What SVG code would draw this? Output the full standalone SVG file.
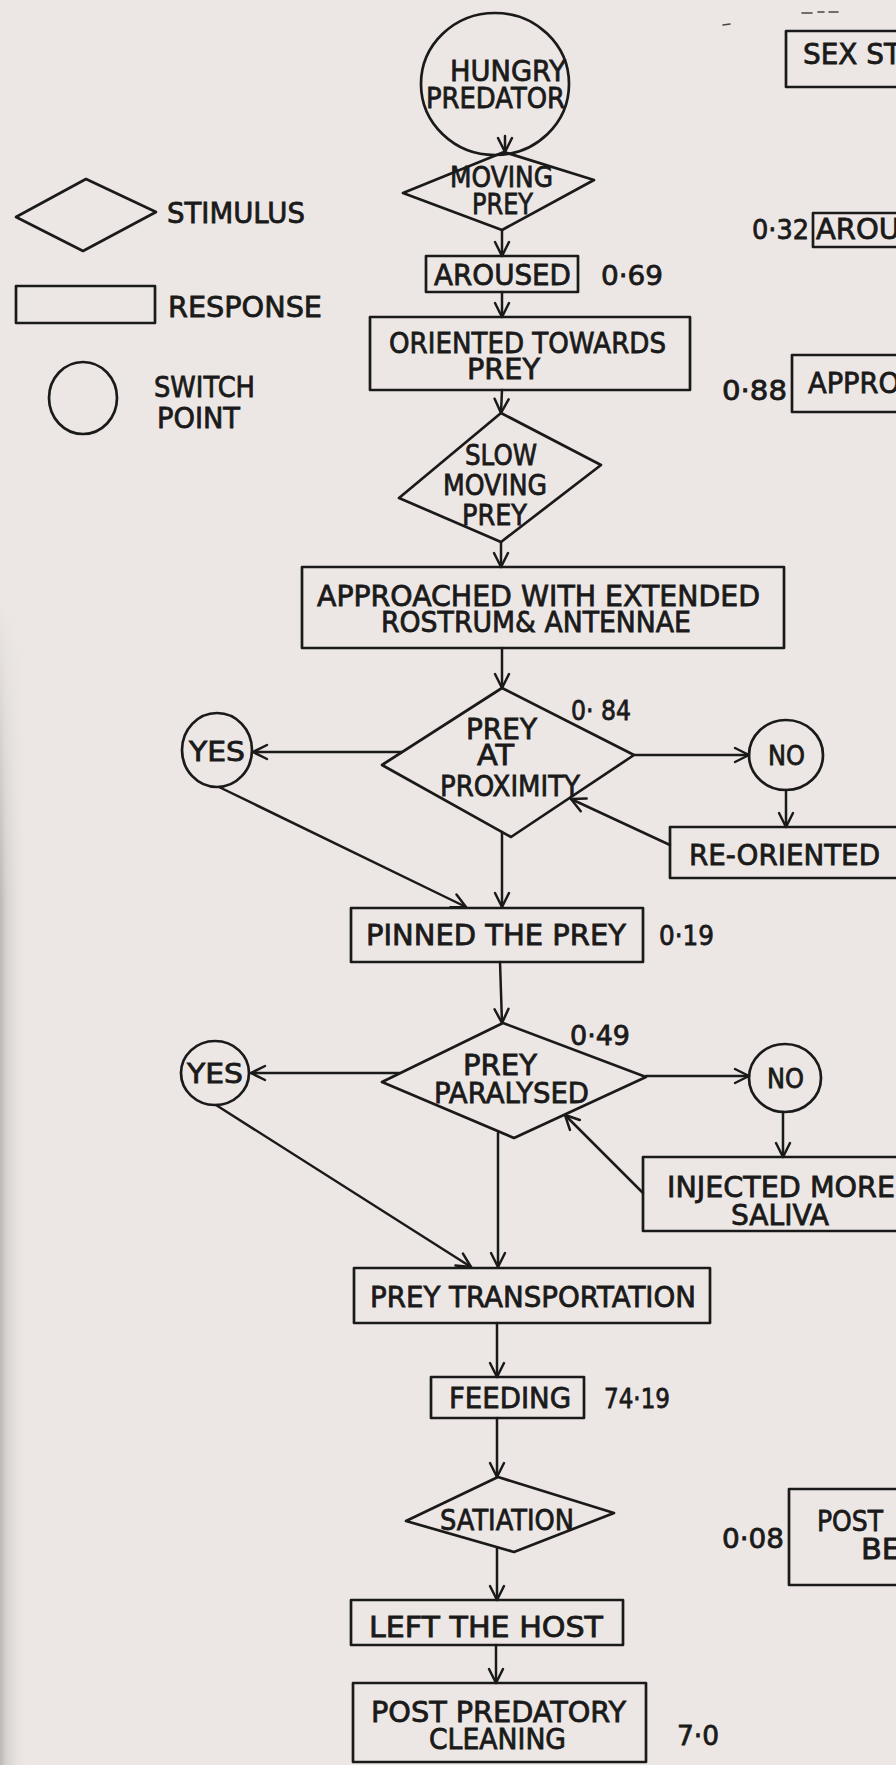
<svg xmlns="http://www.w3.org/2000/svg" width="896" height="1765" viewBox="0 0 896 1765">
  <defs>
    <style>
      .ln { fill: none; stroke: #1b1a1a; stroke-width: 2.7; stroke-linejoin: round; stroke-linecap: round; }
      .cn { fill: none; stroke: #1b1a1a; stroke-width: 2.5; stroke-linecap: round; marker-end: url(#arrow); }
      .mark { stroke: #4a4646; stroke-width: 1.6; stroke-linecap: round; }
      text { font-family: 'DejaVu Sans', 'Liberation Sans', sans-serif; font-size: 28px; fill: #1b1a1a; stroke: #1b1a1a; stroke-width: 0.8; }
      .num { font-size: 27px; }
      .sm { font-size: 26px; }
    </style>
    <marker id="arrow" markerUnits="userSpaceOnUse" viewBox="-16 -10 18 20" refX="0" refY="0" markerWidth="18" markerHeight="20" orient="auto">
      <path d="M-14,-7 L0,0 L-14,7" fill="none" stroke="#1b1a1a" stroke-width="2.5" stroke-linecap="round" stroke-linejoin="round"/>
    </marker>
    <linearGradient id="edge" x1="0" y1="0" x2="1" y2="0">
      <stop offset="0" stop-color="#bcb8b7"/>
      <stop offset="0.2" stop-color="#d4d0ce"/>
      <stop offset="1" stop-color="#ece7e4" stop-opacity="0"/>
    </linearGradient>
    <linearGradient id="edgefade" x1="0" y1="0" x2="0" y2="1">
      <stop offset="0" stop-color="#ece7e4" stop-opacity="1"/>
      <stop offset="1" stop-color="#ece7e4" stop-opacity="0"/>
    </linearGradient>
  </defs>

  <!-- paper -->
  <rect x="0" y="0" width="896" height="1765" fill="#ece7e4"/>
  <rect x="0" y="600" width="28" height="1165" fill="url(#edge)"/>
  <rect x="0" y="600" width="30" height="300" fill="url(#edgefade)"/>
  <!-- stray pen marks near the top edge -->
  <line class="mark" x1="802" y1="13" x2="812" y2="13"/>
  <line class="mark" x1="818" y1="12" x2="824" y2="12"/>
  <line class="mark" x1="829" y1="12" x2="838" y2="12"/>
  <line class="mark" x1="723" y1="25" x2="730" y2="24"/>

  <!-- legend -->
  <g id="legend">
    <polygon class="ln" points="86,179 156,212 83,251 16,217"/>
    <text x="167" y="223" textLength="138" lengthAdjust="spacingAndGlyphs">STIMULUS</text>
    <rect class="ln" x="16" y="286" width="139" height="37"/>
    <text x="168" y="317" textLength="154" lengthAdjust="spacingAndGlyphs">RESPONSE</text>
    <ellipse class="ln" cx="83" cy="398" rx="34" ry="36"/>
    <text x="154" y="397" textLength="101" lengthAdjust="spacingAndGlyphs">SWITCH</text>
    <text x="157" y="428" textLength="83" lengthAdjust="spacingAndGlyphs">POINT</text>
  </g>

  <!-- connectors -->
  <g id="connectors">
    <line class="cn" x1="505" y1="136" x2="505" y2="152"/>
    <line class="cn" x1="502" y1="230" x2="502" y2="256"/>
    <line class="cn" x1="502" y1="292" x2="502" y2="317"/>
    <line class="cn" x1="502" y1="390" x2="501" y2="413"/>
    <line class="cn" x1="501" y1="542" x2="501" y2="567"/>
    <line class="cn" x1="502" y1="648" x2="502" y2="688"/>
    <line class="cn" x1="402" y1="752" x2="253" y2="752"/>
    <line class="cn" x1="634" y1="755" x2="749" y2="755"/>
    <line class="cn" x1="786" y1="790" x2="786" y2="827"/>
    <line class="cn" x1="670" y1="845" x2="571" y2="799"/>
    <line class="cn" x1="219" y1="787" x2="466" y2="907"/>
    <line class="cn" x1="502" y1="832" x2="502" y2="907"/>
    <line class="cn" x1="500" y1="962" x2="502" y2="1023"/>
    <line class="cn" x1="399" y1="1073" x2="251" y2="1073"/>
    <line class="cn" x1="646" y1="1076" x2="749" y2="1076"/>
    <line class="cn" x1="783" y1="1112" x2="783" y2="1157"/>
    <line class="cn" x1="643" y1="1193" x2="565" y2="1115"/>
    <line class="cn" x1="216" y1="1105" x2="471" y2="1267"/>
    <line class="cn" x1="498" y1="1133" x2="498" y2="1267"/>
    <line class="cn" x1="497" y1="1323" x2="497" y2="1377"/>
    <line class="cn" x1="497" y1="1418" x2="497" y2="1477"/>
    <line class="cn" x1="497" y1="1548" x2="497" y2="1600"/>
    <line class="cn" x1="496" y1="1645" x2="496" y2="1683"/>
  </g>

  <!-- predatory sequence -->
  <g id="hungry-predator">
    <ellipse class="ln" cx="495" cy="84" rx="74" ry="71"/>
    <text x="450" y="81" textLength="116" lengthAdjust="spacingAndGlyphs">HUNGRY</text>
    <text x="426" y="108" textLength="139" lengthAdjust="spacingAndGlyphs">PREDATOR</text>
  </g>
  <g id="moving-prey">
    <polygon class="ln" points="504,152 594,180 502,230 403,193"/>
    <text x="450" y="187" textLength="103" lengthAdjust="spacingAndGlyphs">MOVING</text>
    <text x="472" y="214" textLength="61" lengthAdjust="spacingAndGlyphs">PREY</text>
  </g>
  <g id="aroused">
    <rect class="ln" x="426" y="256" width="152" height="36"/>
    <text x="434" y="285" textLength="137" lengthAdjust="spacingAndGlyphs">AROUSED</text>
    <text class="num" x="601" y="285" textLength="62" lengthAdjust="spacingAndGlyphs">0·69</text>
  </g>
  <g id="oriented">
    <rect class="ln" x="370" y="317" width="320" height="73"/>
    <text x="389" y="353" textLength="277" lengthAdjust="spacingAndGlyphs">ORIENTED TOWARDS</text>
    <text x="467" y="379" textLength="73" lengthAdjust="spacingAndGlyphs">PREY</text>
  </g>
  <g id="slow-moving-prey">
    <polygon class="ln" points="501,413 601,465 501,542 399,498"/>
    <text x="465" y="465" textLength="72" lengthAdjust="spacingAndGlyphs">SLOW</text>
    <text x="443" y="495" textLength="104" lengthAdjust="spacingAndGlyphs">MOVING</text>
    <text x="462" y="525" textLength="65" lengthAdjust="spacingAndGlyphs">PREY</text>
  </g>
  <g id="approached">
    <rect class="ln" x="302" y="567" width="482" height="81"/>
    <text x="317" y="606" textLength="443" lengthAdjust="spacingAndGlyphs">APPROACHED WITH EXTENDED</text>
    <text x="381" y="632" textLength="310" lengthAdjust="spacingAndGlyphs">ROSTRUM&amp; ANTENNAE</text>
  </g>
  <g id="prey-at-proximity">
    <polygon class="ln" points="502,688 634,755 511,837 382,765"/>
    <text x="466" y="739" textLength="71" lengthAdjust="spacingAndGlyphs">PREY</text>
    <text x="477" y="765" textLength="37" lengthAdjust="spacingAndGlyphs">AT</text>
    <text x="440" y="796" textLength="140" lengthAdjust="spacingAndGlyphs">PROXIMITY</text>
    <text class="num" x="571" y="720" textLength="60" lengthAdjust="spacingAndGlyphs">0· 84</text>
  </g>
  <g id="yes-1">
    <ellipse class="ln" cx="217" cy="750" rx="35" ry="37"/>
    <text class="sm" x="189" y="761" textLength="56" lengthAdjust="spacingAndGlyphs">YES</text>
  </g>
  <g id="no-1">
    <ellipse class="ln" cx="786" cy="755" rx="37" ry="35"/>
    <text class="sm" x="768" y="765" textLength="37" lengthAdjust="spacingAndGlyphs">NO</text>
  </g>
  <g id="re-oriented">
    <rect class="ln" x="670" y="827" width="240" height="51"/>
    <text x="689" y="865" textLength="191" lengthAdjust="spacingAndGlyphs">RE-ORIENTED</text>
  </g>
  <g id="pinned">
    <rect class="ln" x="351" y="908" width="292" height="54"/>
    <text x="366" y="945" textLength="260" lengthAdjust="spacingAndGlyphs">PINNED THE PREY</text>
    <text class="num" x="659" y="945" textLength="55" lengthAdjust="spacingAndGlyphs">0·19</text>
  </g>
  <g id="prey-paralysed">
    <polygon class="ln" points="503,1023 646,1077 514,1138 382,1082"/>
    <text x="463" y="1075" textLength="74" lengthAdjust="spacingAndGlyphs">PREY</text>
    <text x="434" y="1103" textLength="155" lengthAdjust="spacingAndGlyphs">PARALYSED</text>
    <text class="num" x="570" y="1045" textLength="60" lengthAdjust="spacingAndGlyphs">0·49</text>
  </g>
  <g id="yes-2">
    <ellipse class="ln" cx="215" cy="1073" rx="34" ry="32"/>
    <text class="sm" x="187" y="1083" textLength="56" lengthAdjust="spacingAndGlyphs">YES</text>
  </g>
  <g id="no-2">
    <ellipse class="ln" cx="785" cy="1078" rx="36" ry="34"/>
    <text class="sm" x="767" y="1088" textLength="37" lengthAdjust="spacingAndGlyphs">NO</text>
  </g>
  <g id="injected">
    <rect class="ln" x="643" y="1157" width="260" height="74"/>
    <text x="667" y="1197" textLength="228" lengthAdjust="spacingAndGlyphs">INJECTED MORE</text>
    <text x="731" y="1225" textLength="98" lengthAdjust="spacingAndGlyphs">SALIVA</text>
  </g>
  <g id="transportation">
    <rect class="ln" x="354" y="1268" width="356" height="55"/>
    <text x="370" y="1307" textLength="326" lengthAdjust="spacingAndGlyphs">PREY TRANSPORTATION</text>
  </g>
  <g id="feeding">
    <rect class="ln" x="431" y="1377" width="153" height="41"/>
    <text x="449" y="1408" textLength="122" lengthAdjust="spacingAndGlyphs">FEEDING</text>
    <text class="num" x="604" y="1408" textLength="66" lengthAdjust="spacingAndGlyphs">74·19</text>
  </g>
  <g id="satiation">
    <polygon class="ln" points="498,1477 614,1513 514,1552 406,1521"/>
    <text x="440" y="1530" textLength="134" lengthAdjust="spacingAndGlyphs">SATIATION</text>
  </g>
  <g id="left-host">
    <rect class="ln" x="351" y="1600" width="272" height="45"/>
    <text x="369" y="1637" textLength="234" lengthAdjust="spacingAndGlyphs">LEFT THE HOST</text>
  </g>
  <g id="cleaning">
    <rect class="ln" x="353" y="1683" width="293" height="79"/>
    <text x="371" y="1722" textLength="255" lengthAdjust="spacingAndGlyphs">POST PREDATORY</text>
    <text x="429" y="1749" textLength="137" lengthAdjust="spacingAndGlyphs">CLEANING</text>
    <text class="num" x="677" y="1745" textLength="42" lengthAdjust="spacingAndGlyphs">7·0</text>
  </g>

  <!-- sexual sequence column, cut by the right edge -->
  <g id="sex-stimulus">
    <rect class="ln" x="786" y="31" width="130" height="56"/>
    <text x="803" y="64" textLength="98" lengthAdjust="spacingAndGlyphs">SEX ST</text>
  </g>
  <g id="aroused-sex">
    <rect class="ln" x="813" y="213" width="100" height="34"/>
    <text x="816" y="239" textLength="84" lengthAdjust="spacingAndGlyphs">AROU</text>
    <text class="num" x="752" y="239" textLength="57" lengthAdjust="spacingAndGlyphs">0·32</text>
  </g>
  <g id="approached-sex">
    <rect class="ln" x="792" y="355" width="120" height="57"/>
    <text x="808" y="393" textLength="92" lengthAdjust="spacingAndGlyphs">APPRO</text>
    <text class="num" x="722" y="400" textLength="65" lengthAdjust="spacingAndGlyphs">0·88</text>
  </g>
  <g id="post-sex">
    <rect class="ln" x="789" y="1489" width="120" height="96"/>
    <text x="817" y="1531" textLength="66" lengthAdjust="spacingAndGlyphs">POST</text>
    <text x="861" y="1559" textLength="40" lengthAdjust="spacingAndGlyphs">BE</text>
    <text class="num" x="722" y="1548" textLength="62" lengthAdjust="spacingAndGlyphs">0·08</text>
  </g>
</svg>
